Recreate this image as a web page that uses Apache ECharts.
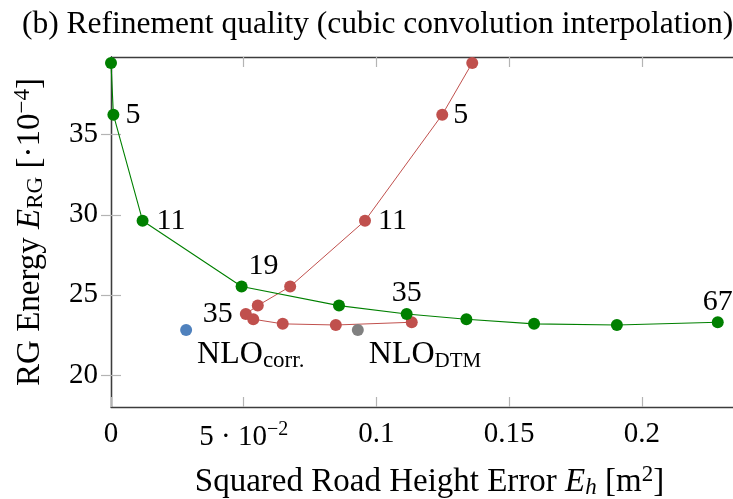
<!DOCTYPE html>
<html><head><meta charset="utf-8">
<script src="https://cdn.jsdelivr.net/npm/echarts@6/dist/echarts.min.js"></script>
<style>html,body{margin:0;padding:0;background:#fff}#c{width:733px;height:499px}</style>
</head><body><div id="c"></div>
<script>
// ---- data ----
const rgEnergy   = [39.48, 36.25, 29.63, 25.52, 24.33, 23.81, 23.48, 23.19, 23.12, 23.29];
const greenErrX  = [0.0000, 0.0009, 0.0119, 0.0492, 0.0859, 0.1114, 0.1339, 0.1594, 0.1906, 0.2286];
const redErrX    = [0.1361, 0.1248, 0.0957, 0.0675, 0.0553, 0.0508, 0.0536, 0.0647, 0.0847, 0.1133];
const greenTags  = ['', '5', '11', '19', '', '35', '', '', '', '67'];
const redTags    = ['', '5', '11', '', '', '35', '', '', '', ''];
const nloCorr    = [0.0283, 22.81];
const nloDtm     = [0.0930, 22.81];
const xTickValues = [0, 0.05, 0.1, 0.15, 0.2];
const xTickLabels = ['0', '5 · 10{sup|−2}', '0.1', '0.15', '0.2'];
const yTickValues = [20, 25, 30, 35];

// ---- styling ----
const FONT = 'Liberation Serif';
const FS = 29;      // tick labels
const AFS = 30;     // point annotations
const NFS = 33;     // axis names
const GREEN = '#008000', RED = '#c0504d', BLUE = '#4f81bd', GRAY = '#808080';
const greenPlace = {
  1: {position: 'right', distance: 6},
  2: {position: 'right', distance: 8},
  3: {position: 'inside', offset: [22, -20]},
  5: {position: 'inside', offset: [0, -21]},
  9: {position: 'inside', offset: [0, -20]}
};
const redPlace = {
  1: {position: 'right', distance: 5},
  2: {position: 'right', distance: 7},
  5: {position: 'left', distance: 7}
};

function buildSeriesData(xs, ys, tags, place) {
  return xs.map((x, i) => {
    const item = {value: [x, ys[i]]};
    if (tags[i]) {
      item.label = Object.assign({show: true, formatter: tags[i], fontFamily: FONT, fontSize: AFS, color: '#000'}, place[i] || {});
    }
    return item;
  });
}

const chart = echarts.init(document.getElementById('c'), null, {renderer: 'canvas'});
const axisLine = {show: true, lineStyle: {color: '#3c3c3c', width: 1.3}};
const tickStyle = {color: '#b4b4b4', width: 1.2};
const supRich = {sup: {fontFamily: FONT, fontSize: 20, padding: [0, 0, 14, 0], color: '#000'}};
const nameRich = {
  n: {fontFamily: FONT, fontSize: NFS, color: '#000'},
  i: {fontFamily: FONT, fontSize: NFS, fontStyle: 'italic', color: '#000'},
  sub: {fontFamily: FONT, fontSize: 23, padding: [11, 0, 0, 0], color: '#000'},
  subi: {fontFamily: FONT, fontSize: 23, fontStyle: 'italic', padding: [11, 0, 0, 0], color: '#000'},
  sup: {fontFamily: FONT, fontSize: 23, padding: [0, 0, 15, 0], color: '#000'}
};

chart.setOption({
  animation: false,
  textStyle: {fontFamily: FONT, color: '#000'},
  title: {
    text: '(b) Refinement quality (cubic convolution interpolation)',
    left: 17, top: 4,
    textStyle: {fontFamily: FONT, fontSize: 31.5, fontWeight: 'normal', color: '#000'}
  },
  grid: {left: 111, top: 57, width: 637, height: 350, containLabel: false, outerBoundsMode: 'none'},
  xAxis: [{
    type: 'value', min: 0, max: 0.24, position: 'bottom',
    axisLine: axisLine,
    axisTick: {show: true, inside: true, length: 10, customValues: xTickValues, lineStyle: tickStyle},
    axisLabel: {
      show: true, customValues: xTickValues, margin: 13,
      fontFamily: FONT, fontSize: FS, color: '#000',
      formatter: v => { const i = xTickValues.findIndex(t => Math.abs(t - v) < 1e-9); return i >= 0 ? xTickLabels[i] : ''; },
      rich: supRich
    },
    splitLine: {show: false},
    name: '{n|Squared Road Height Error }{i|E}{subi|h}{n| [m}{sup|2}{n|]}',
    nameLocation: 'middle', nameGap: 56, nameMoveOverlap: false,
    nameTextStyle: {fontFamily: FONT, fontSize: NFS, color: '#000', rich: nameRich}
  }, {
    type: 'value', min: 0, max: 0.24, position: 'top',
    axisLine: axisLine,
    axisTick: {show: true, inside: true, length: 10, customValues: xTickValues, lineStyle: tickStyle},
    axisLabel: {show: false}, splitLine: {show: false}
  }],
  yAxis: [{
    type: 'value', min: 18, max: 39.85, position: 'left',
    axisLine: axisLine,
    axisTick: {show: true, inside: true, length: 10, customValues: yTickValues, lineStyle: tickStyle},
    axisLabel: {show: true, customValues: yTickValues, margin: 13, fontFamily: FONT, fontSize: FS, color: '#000'},
    splitLine: {show: false},
    name: '{n|RG Energy }{i|E}{sub|RG}{n| [·10}{sup|−4}{n|]}',
    nameLocation: 'middle', nameGap: 62, nameRotate: 90, nameMoveOverlap: false,
    nameTextStyle: {fontFamily: FONT, fontSize: NFS, color: '#000', rich: nameRich}
  }, {
    type: 'value', min: 18, max: 39.85, position: 'right',
    axisLine: axisLine,
    axisTick: {show: true, inside: true, length: 10, customValues: yTickValues, lineStyle: tickStyle},
    axisLabel: {show: false}, splitLine: {show: false}
  }],
  series: [{
    name: 'red', type: 'line', data: buildSeriesData(redErrX, rgEnergy, redTags, redPlace),
    symbol: 'circle', symbolSize: 12, showSymbol: true,
    itemStyle: {color: RED}, lineStyle: {color: RED, width: 1}, z: 2
  }, {
    name: 'green', type: 'line', data: buildSeriesData(greenErrX, rgEnergy, greenTags, greenPlace),
    symbol: 'circle', symbolSize: 12, showSymbol: true,
    itemStyle: {color: GREEN}, lineStyle: {color: GREEN, width: 1.1}, z: 3
  }, {
    name: 'NLO corr', type: 'scatter', data: [nloCorr], symbolSize: 12, itemStyle: {color: BLUE, opacity: 1},
    label: {show: true, position: 'right', distance: 5, offset: [0, 25], color: '#000', formatter: '{n|NLO}{s|corr.}',
      rich: {n: {fontFamily: FONT, fontSize: 32, color: '#000'},
             s: {fontFamily: FONT, fontSize: 23, padding: [13, 0, 0, 0], color: '#000'}}}
  }, {
    name: 'NLO DTM', type: 'scatter', data: [nloDtm], symbolSize: 12, itemStyle: {color: GRAY, opacity: 1},
    label: {show: true, position: 'right', distance: 5, offset: [0, 25], color: '#000', formatter: '{n|NLO}{s|DTM}',
      rich: {n: {fontFamily: FONT, fontSize: 32, color: '#000'},
             s: {fontFamily: FONT, fontSize: 21, padding: [13, 0, 0, 0], color: '#000'}}}
  }]
});
</script>
</body></html>
